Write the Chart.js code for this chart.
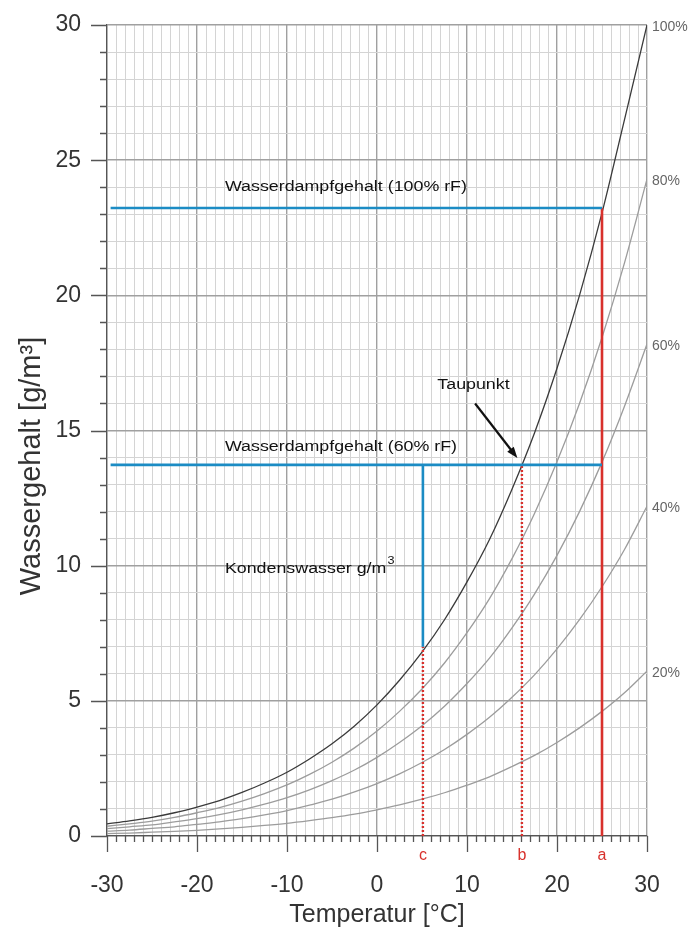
<!DOCTYPE html>
<html>
<head>
<meta charset="utf-8">
<script src="https://cdn.jsdelivr.net/npm/chart.js@4.4.1/dist/chart.umd.min.js"></script>
<style>
  html, body { margin: 0; padding: 0; background: #fff; }
  #wrap { width: 692px; height: 936px; }
</style>
</head>
<body>
<div id="wrap"><canvas id="taupunkt" width="692" height="936"></canvas></div>
<script>
// Temperatur in °C
const temps = [-30, -27.5, -25, -22.5, -20, -17.5, -15, -12.5, -10, -7.5, -5, -2.5, 0,
               2.5, 5, 7.5, 10, 12.5, 15, 17.5, 20, 22.5, 25, 27.5, 30];

// Wassergehalt in g/m3 je relative Feuchte
const rf100 = [0.45, 0.56, 0.69, 0.86, 1.07, 1.31, 1.61, 1.96, 2.36, 2.85, 3.41, 4.07, 4.85,
               5.76, 6.80, 8.00, 9.40, 10.97, 12.83, 14.91, 17.30, 20.00, 23.05, 26.5, 30.0];
const rf80  = [0.36, 0.45, 0.55, 0.69, 0.86, 1.05, 1.29, 1.57, 1.89, 2.28, 2.73, 3.26, 3.88,
               4.61, 5.44, 6.40, 7.52, 8.78, 10.26, 11.93, 13.84, 16.00, 18.44, 21.2, 24.3];
const rf60  = [0.27, 0.34, 0.41, 0.52, 0.64, 0.79, 0.97, 1.18, 1.42, 1.71, 2.05, 2.44, 2.91,
               3.46, 4.08, 4.80, 5.64, 6.58, 7.70, 8.95, 10.38, 12.00, 13.83, 15.9, 18.2];
const rf40  = [0.18, 0.22, 0.28, 0.34, 0.43, 0.52, 0.64, 0.78, 0.94, 1.14, 1.36, 1.63, 1.94,
               2.30, 2.72, 3.20, 3.76, 4.39, 5.13, 5.96, 6.92, 8.00, 9.22, 10.6, 12.2];
const rf20  = [0.09, 0.11, 0.14, 0.17, 0.21, 0.26, 0.32, 0.39, 0.47, 0.57, 0.68, 0.81, 0.97,
               1.15, 1.36, 1.60, 1.88, 2.19, 2.57, 2.98, 3.46, 4.00, 4.61, 5.3, 6.1];
const curveLabels = ['100%', '80%', '60%', '40%', '20%'];

// Beispiel: 25 °C, 60% rF
const startT = -29.6;
const tempA = 25;      // a: Raumtemperatur
const tempB = 16.1;    // b: Taupunkt
const tempC = 5.1;     // c: abgekühlt
const gehalt100 = 23.23;
const gehalt60 = 13.73;
const gehaltC = 7.0;
const markLetters = ['a', 'b', 'c'];

const toPoints = arr => temps.map((t, i) => ({ x: t, y: arr[i] }));
const seg = (x1, y1, x2, y2) => [{ x: x1, y: y1 }, { x: x2, y: y2 }];

const FONT = "'Liberation Sans', Arial, sans-serif";
const BLUE = '#1c8cc4';
const RED = '#d8312c';

function curve(arr, color) {
    return {
        data: toPoints(arr),
        borderColor: color,
        borderWidth: 1.3,
        pointRadius: 0,
        cubicInterpolationMode: 'monotone'
    };
}
function refLine(points, color, width, dash) {
    return {
        data: points,
        borderColor: color,
        borderWidth: width,
        borderDash: dash || [],
        pointRadius: 0,
        tension: 0
    };
}
// feste Achsmaße, damit die Zeichenfläche genau sitzt
function fixScale(s, size) {
    if (s.isHorizontal()) s.height = size; else s.width = size;
    s.paddingTop = 0;
    s.paddingBottom = 0;
    s.paddingLeft = 0;
    s.paddingRight = 0;
}

// Tick-Striche (kurz/lang) und Beschriftungen
const extras = {
    id: 'extras',
    afterDraw(chart) {
        const { ctx, chartArea, scales: { x, y } } = chart;
        ctx.save();
        ctx.strokeStyle = '#555';
        ctx.lineWidth = 1.3;
        ctx.beginPath();
        x.ticks.forEach(t => {
            const px = Math.round(x.getPixelForValue(t.value)) + 0.5;
            const len = t.value % 10 === 0 ? 16 : 6;
            ctx.moveTo(px, chartArea.bottom);
            ctx.lineTo(px, chartArea.bottom + len);
        });
        y.ticks.forEach(t => {
            const py = Math.round(y.getPixelForValue(t.value)) + 0.5;
            const len = t.value % 5 === 0 ? 16 : 7;
            ctx.moveTo(chartArea.left, py);
            ctx.lineTo(chartArea.left - len, py);
        });
        ctx.stroke();

        // Prozent-Beschriftung am rechten Rand
        const curves = [rf100, rf80, rf60, rf40, rf20];
        ctx.fillStyle = '#666';
        ctx.font = '14px ' + FONT;
        ctx.textAlign = 'left';
        ctx.textBaseline = 'middle';
        curves.forEach((arr, i) => {
            const v = Math.min(arr[arr.length - 1], 30);
            ctx.fillText(curveLabels[i], chartArea.right + 5, y.getPixelForValue(v) + 2);
        });

        // a, b, c unter der Achse
        ctx.fillStyle = RED;
        ctx.font = '16px ' + FONT;
        ctx.textAlign = 'center';
        [tempA, tempB, tempC].forEach((t, i) => {
            ctx.fillText(markLetters[i], x.getPixelForValue(t), chartArea.bottom + 20);
        });

        // Texte im Diagramm
        ctx.fillStyle = '#111';
        ctx.textAlign = 'left';
        const label = (txt, tx, ty) => {
            ctx.save();
            ctx.translate(x.getPixelForValue(tx), y.getPixelForValue(ty));
            ctx.scale(1.15, 1);
            ctx.font = '15.5px ' + FONT;
            ctx.fillText(txt, 0, 0);
            ctx.restore();
        };
        label('Wasserdampfgehalt (100% rF)', -16.9, 24.0);
        label('Wasserdampfgehalt (60% rF)', -16.9, 14.4);
        label('Taupunkt', 6.7, 16.7);
        label('Kondenswasser g/m', -16.9, 9.9);
        ctx.save();
        ctx.translate(x.getPixelForValue(-16.9), y.getPixelForValue(9.9));
        ctx.scale(1.15, 1);
        ctx.font = '15.5px ' + FONT;
        const w = ctx.measureText('Kondenswasser g/m').width;
        ctx.font = '11px ' + FONT;
        ctx.fillText('3', w + 1, -7);
        ctx.restore();

        // Pfeil zum Taupunkt
        const x1 = x.getPixelForValue(10.9), y1 = y.getPixelForValue(16.0);
        const x2 = x.getPixelForValue(15.6), y2 = y.getPixelForValue(13.98);
        const ang = Math.atan2(y2 - y1, x2 - x1);
        ctx.strokeStyle = '#111';
        ctx.lineWidth = 2.2;
        ctx.beginPath();
        ctx.moveTo(x1, y1);
        ctx.lineTo(x2 - 8 * Math.cos(ang), y2 - 8 * Math.sin(ang));
        ctx.stroke();
        ctx.fillStyle = '#111';
        ctx.beginPath();
        ctx.moveTo(x2, y2);
        ctx.lineTo(x2 - 12 * Math.cos(ang - 0.35), y2 - 12 * Math.sin(ang - 0.35));
        ctx.lineTo(x2 - 12 * Math.cos(ang + 0.35), y2 - 12 * Math.sin(ang + 0.35));
        ctx.closePath();
        ctx.fill();

        // y-Achsentitel
        ctx.save();
        ctx.translate(32, 466);
        ctx.rotate(-Math.PI / 2);
        ctx.fillStyle = '#333';
        ctx.font = '29px ' + FONT;
        ctx.textAlign = 'center';
        ctx.textBaseline = 'middle';
        ctx.fillText('Wassergehalt [g/m³]', 0, 0);
        ctx.restore();
        ctx.restore();
    }
};

new Chart(document.getElementById('taupunkt'), {
    type: 'line',
    data: {
        datasets: [
            refLine(seg(startT, gehalt100, tempA, gehalt100), BLUE, 2.6),
            refLine(seg(startT, gehalt60, tempA, gehalt60), BLUE, 2.6),
            refLine(seg(tempC, gehalt60, tempC, gehaltC), BLUE, 2.6),
            refLine(seg(tempA, 0, tempA, gehalt100), RED, 2.6),
            refLine(seg(tempB, 0, tempB, gehalt60), RED, 2.4, [2, 2]),
            refLine(seg(tempC, 0, tempC, gehaltC), RED, 2.4, [2, 2]),
            curve(rf100, '#3a3a3a'),
            curve(rf80, '#9c9c9c'),
            curve(rf60, '#9c9c9c'),
            curve(rf40, '#9c9c9c'),
            curve(rf20, '#9c9c9c')
        ]
    },
    options: {
        responsive: false,
        animation: false,
        layout: { padding: { top: 25, right: 45, left: 0, bottom: 0 } },
        plugins: {
            legend: { display: false },
            tooltip: { enabled: false }
        },
        scales: {
            x: {
                type: 'linear',
                min: -30,
                max: 30,
                afterFit: s => fixScale(s, 100),
                border: { color: '#555', width: 1.3 },
                grid: {
                    drawTicks: false,
                    color: c => c.tick.value % 10 === 0 ? '#a0a0a0' : '#d4d4d4',
                    lineWidth: c => c.tick.value % 10 === 0 ? 1.4 : 1
                },
                ticks: {
                    stepSize: 1,
                    autoSkip: false,
                    maxRotation: 0,
                    padding: 36,
                    color: '#333',
                    font: { family: FONT, size: 23 },
                    callback: v => v % 10 === 0 ? v : ''
                },
                title: {
                    display: true,
                    text: 'Temperatur [°C]',
                    color: '#333',
                    font: { family: FONT, size: 25 },
                    padding: { bottom: 6 }
                }
            },
            y: {
                min: 0,
                max: 30,
                afterFit: s => fixScale(s, 107),
                border: { color: '#555', width: 1.3 },
                grid: {
                    drawTicks: false,
                    color: c => c.tick.value % 5 === 0 ? '#a0a0a0' : '#d4d4d4',
                    lineWidth: c => c.tick.value % 5 === 0 ? 1.4 : 1
                },
                ticks: {
                    stepSize: 1,
                    autoSkip: false,
                    padding: 26,
                    color: '#333',
                    font: { family: FONT, size: 23 },
                    callback: v => v % 5 === 0 ? v : ''
                }
            }
        }
    },
    plugins: [extras]
});
</script>
</body>
</html>
